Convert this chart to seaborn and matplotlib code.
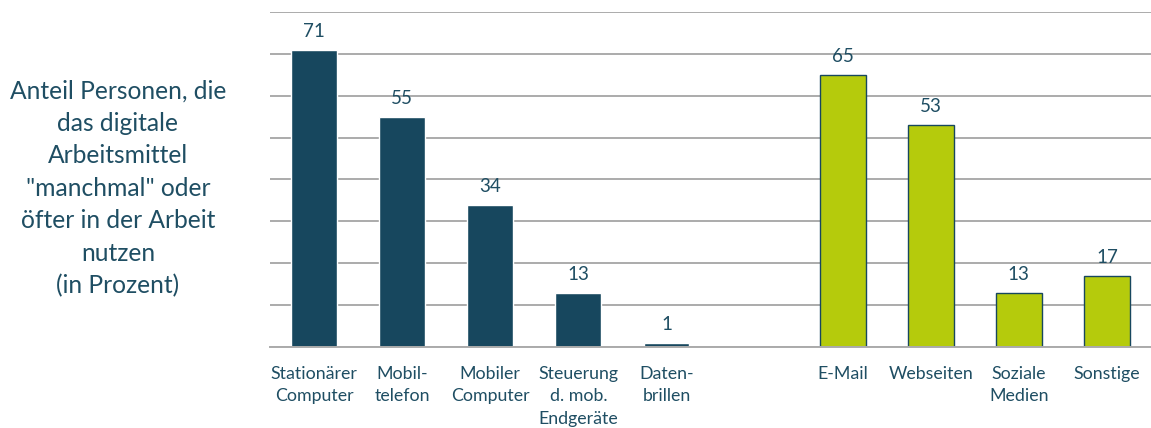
import pandas as pd
import numpy as np
import matplotlib.pyplot as plt
import seaborn as sns

# data
categories = ["Stationärer\nComputer", "Mobil-\ntelefon", "Mobiler\nComputer",
              "Steuerung\nd. mob.\nEndgeräte", "Daten-\nbrillen",
              "E-Mail", "Webseiten", "Soziale\nMedien", "Sonstige"]
values = [71, 55, 34, 13, 1, 65, 53, 13, 17]
groups = ["Geräte"] * 5 + ["Anwendungen"] * 4
gap = " "
order = categories[:5] + [gap] + categories[5:]

data = pd.DataFrame({"cat": categories, "val": values, "grp": groups})

blue = "#17475E"
green = "#B5CB0C"
text_col = "#1F4E63"

sns.set_style("white")
plt.rcParams['font.family'] = ['Lato', 'DejaVu Sans']

fig = plt.figure(figsize=(11.51, 4.28), dpi=100)
ax = fig.add_axes([0.2346, 0.1893, 0.7654, 0.7827])

sns.barplot(data=data, x="cat", y="val", hue="grp", order=order,
            palette={"Geräte": blue, "Anwendungen": green}, saturation=1,
            dodge=False, width=0.52, legend=False, ax=ax)

# green bars get a thin dark outline
for c in ax.containers:
    for p in c:
        if np.allclose(p.get_facecolor()[:3], plt.matplotlib.colors.to_rgb(green)):
            p.set_edgecolor(blue)
            p.set_linewidth(1.0)
    ax.bar_label(c, padding=7, fontsize=13.5, color=text_col)

ax.set_ylim(0, 80)
ax.set_xlim(-0.5, len(order) - 0.5)
ax.set_yticks(np.arange(0, 81, 10))
ax.yaxis.grid(True, color="#ABABAB", linewidth=1.4)
ax.set_axisbelow(True)
ax.tick_params(axis="y", left=False, labelleft=False)
ax.tick_params(axis="x", bottom=False, labelsize=12.8, labelcolor=text_col, pad=10)
for lab in ax.get_xticklabels():
    lab.set_verticalalignment("top")
    lab.set_linespacing(1.5)
ax.set_xlabel("")
ax.set_ylabel("")
for s in ["top", "right", "left"]:
    ax.spines[s].set_visible(False)
ax.spines["bottom"].set_color("#ABABAB")
ax.spines["bottom"].set_linewidth(1.4)

fig.text(0.1025, 0.56, "Anteil Personen, die\ndas digitale\nArbeitsmittel\n\"manchmal\" oder\nöfter in der Arbeit\nnutzen\n(in Prozent)",
         ha="center", va="center", fontsize=17.7, color=text_col, linespacing=1.5)

fig.savefig("out.png", dpi=100)
